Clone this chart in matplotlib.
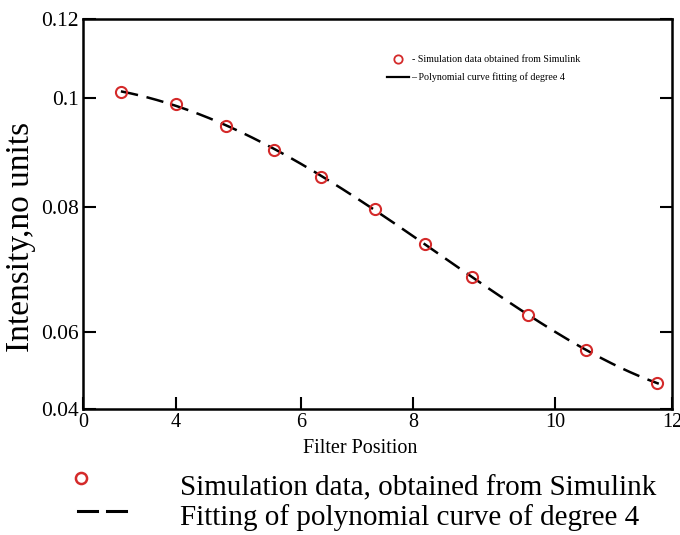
import numpy as np
import matplotlib
matplotlib.use("Agg")
import matplotlib.pyplot as plt
from matplotlib.lines import Line2D

plt.rcParams['font.family'] = ['Liberation Serif', 'DejaVu Serif']

# Data
filter_pos = [1.63, 4.0, 4.8, 5.57, 6.36, 7.32, 8.17, 8.83, 9.62, 10.53, 11.74]
intensity = [0.1015, 0.0989, 0.0949, 0.0905, 0.0855, 0.0797, 0.0741, 0.0688, 0.0627, 0.0553, 0.0468]

x_ticks = [0, 4, 6, 8, 10, 12]
x_tick_labels = ["0", "4", "6", "8", "10", "12"]
y_ticks = [0.04, 0.06, 0.08, 0.1, 0.12]
y_tick_labels = ["0.04", "0.06", "0.08", "0.1", "0.12"]

# axis spacing of the original (uneven) tick placement
x_tick_pos = [0, 93, 218, 330, 472, 589]
y_tick_pos = [0, 77, 202, 311, 390]

fit_degree = 4


def make_piecewise(vals, pos):
    vals = np.asarray(vals, float)
    pos = np.asarray(pos, float)
    s0 = (pos[1] - pos[0]) / (vals[1] - vals[0])
    s1 = (pos[-1] - pos[-2]) / (vals[-1] - vals[-2])
    big = 1e6
    v_ext = np.concatenate([[vals[0] - big], vals, [vals[-1] + big]])
    p_ext = np.concatenate([[pos[0] - big * s0], pos, [pos[-1] + big * s1]])

    def fwd(v):
        return np.interp(np.asarray(v, float), v_ext, p_ext)

    def inv(p):
        return np.interp(np.asarray(p, float), p_ext, v_ext)
    return fwd, inv


xfwd, xinv = make_piecewise(x_ticks, x_tick_pos)
yfwd, yinv = make_piecewise(y_ticks, y_tick_pos)

fig = plt.figure(figsize=(6.8, 5.35), dpi=100)
ax = fig.add_axes([83 / 680, 1 - 409 / 535, (672 - 83) / 680, (409 - 19) / 535])

ax.set_xscale('function', functions=(xfwd, xinv))
ax.set_yscale('function', functions=(yfwd, yinv))

# degree-4 polynomial fit in the plotted (scaled) coordinates
u = xfwd(filter_pos)
v = yfwd(intensity)
coef = np.polyfit(u, v, fit_degree)
uf = np.linspace(u.min(), u.max() + 2, 300)
xf = xinv(uf)
yf = yinv(np.polyval(coef, uf))

red = '#d42a2a'
ax.plot(xf, yf, color='black', lw=1.8, dashes=(7, 3.5))
ax.plot(filter_pos, intensity, linestyle='none', marker='o', ms=8,
        mfc='none', mec=red, mew=1.5)

ax.set_xlim(0, 12)
ax.set_ylim(0.04, 0.12)
ax.set_xticks(x_ticks)
ax.set_xticklabels(x_tick_labels)
ax.set_yticks(y_ticks)
ax.set_yticklabels(y_tick_labels)
ax.minorticks_off()
ax.tick_params(axis='both', direction='in', length=9, width=1.5)
ax.tick_params(axis='y', right=True, pad=3, labelsize=15.5)
ax.tick_params(axis='x', pad=3, labelsize=14.5)
for s in ax.spines.values():
    s.set_linewidth(1.8)

ax.set_xlabel('Filter Position', fontsize=14.5)
ax.xaxis.set_label_coords(0.47, -0.078)
ax.set_ylabel('Intensity,no units', fontsize=24)
ax.yaxis.set_label_coords(-0.079, 0.441)

# inner legend
h1 = Line2D([], [], linestyle='none', marker='o', ms=6, mfc='none', mec=red, mew=1.3)
h2 = Line2D([], [], color='black', lw=1.6)
ax.legend([h1, h2], ['- Simulation data obtained from Simulink',
                     '\u2013 Polynomial curve fitting of degree 4'],
          loc='upper left', bbox_to_anchor=(0.50, 0.93), frameon=False,
          fontsize=7.2, handlelength=2.2, handletextpad=0.3, labelspacing=0.8)

# outer legend under the chart
fig.lines.append(Line2D([81 / 680], [1 - 478 / 535], transform=fig.transFigure,
                        linestyle='none', marker='o', ms=8, mfc='none',
                        mec=red, mew=1.8))
for x0, x1 in [(78, 97), (107, 126)]:
    fig.lines.append(Line2D([x0 / 680, x1 / 680], [1 - 511 / 535, 1 - 511 / 535],
                            transform=fig.transFigure, color='black', lw=2.2))
fig.text(180 / 680, 1 - 488 / 535, 'Simulation data, obtained from Simulink',
         fontsize=21, va='center', ha='left')
fig.text(180 / 680, 1 - 518 / 535, 'Fitting of polynomial curve of degree 4',
         fontsize=21, va='center', ha='left')

fig.savefig('out.png', dpi=100)
